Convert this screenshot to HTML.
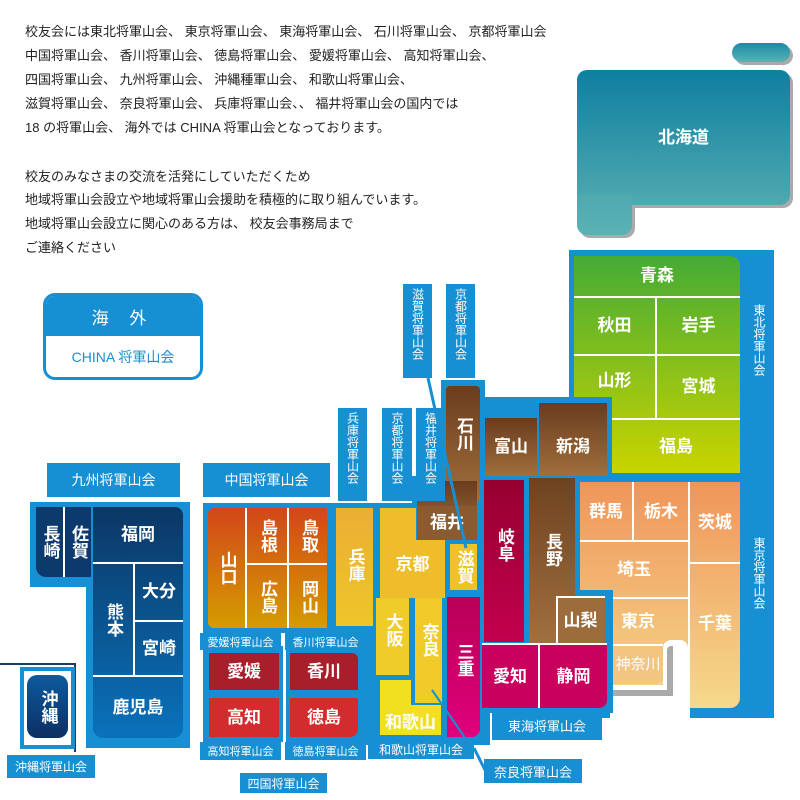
<!DOCTYPE html>
<html><head><meta charset="utf-8"><style>
*{margin:0;padding:0;box-sizing:border-box}
body{width:800px;height:800px;background:#fff;position:relative;overflow:hidden;font-family:"Liberation Sans","Noto Sans CJK JP",sans-serif}
div{position:absolute}
.t{left:25px;font-size:13px;color:#222;white-space:nowrap;line-height:16px}
.b{background:#178fd3}
.c{color:#fff;font-weight:bold;font-size:17px;display:flex;align-items:center;justify-content:center;text-align:center;line-height:20px}
.v{writing-mode:vertical-rl;text-orientation:upright}
.lb{background:#178fd3;color:#fff;font-size:12px;display:flex;align-items:center;justify-content:center;white-space:nowrap}
.vl{background:#178fd3;color:#fff;font-size:12px;writing-mode:vertical-rl;text-orientation:upright;display:flex;align-items:center;justify-content:flex-start;padding-top:4px;line-height:14px;letter-spacing:0px}
.brn{background:linear-gradient(#6a3c1e,#a06f3c)}
</style></head><body>
<div class="t" style="top:24px">校友会には東北将軍山会、 東京将軍山会、 東海将軍山会、 石川将軍山会、 京都将軍山会</div>
<div class="t" style="top:48px">中国将軍山会、 香川将軍山会、 徳島将軍山会、 愛媛将軍山会、 高知将軍山会、</div>
<div class="t" style="top:72px">四国将軍山会、 九州将軍山会、 沖縄種軍山会、 和歌山将軍山会、</div>
<div class="t" style="top:96px">滋賀将軍山会、 奈良将軍山会、 兵庫将軍山会、、 福井将軍山会の国内では</div>
<div class="t" style="top:120px">18 の将軍山会、 海外では CHINA 将軍山会となっております。</div>
<div class="t" style="top:169px">校友のみなさまの交流を活発にしていただくため</div>
<div class="t" style="top:192px">地域将軍山会設立や地域将軍山会援助を積極的に取り組んでいます。</div>
<div class="t" style="top:216px">地域将軍山会設立に関心のある方は、 校友会事務局まで</div>
<div class="t" style="top:240px">ご連絡ください</div>

<!-- 海外 -->
<div style="left:43px;top:293px;width:160px;height:87px;border:3px solid #178fd3;border-radius:12px;background:#fff;overflow:hidden">
<div style="left:0;top:0;width:154px;height:40px;background:#178fd3;color:#fff;font-size:17px;display:flex;align-items:center;justify-content:center;letter-spacing:8px">海 外</div>
<div style="left:0;top:40px;width:154px;height:41px;color:#178fd3;font-size:14px;display:flex;align-items:center;justify-content:center">CHINA 将軍山会</div>
</div>

<!-- Hokkaido -->
<div style="left:735px;top:46px;width:58px;height:19px;border-radius:10px;background:#aaa"></div>
<div style="left:732px;top:43px;width:58px;height:19px;border-radius:10px;background:linear-gradient(#1a8aa5,#5ab2b5)"></div>
<div style="left:580px;top:73px;width:213px;height:135px;border-radius:10px;background:#aaa"></div>
<div style="left:580px;top:200px;width:55px;height:38px;border-radius:0 0 10px 10px;background:#aaa"></div>
<div style="left:577px;top:70px;width:213px;height:135px;border-radius:10px;background:linear-gradient(#0e7fa0,#4fa9b0)"></div>
<div style="left:577px;top:195px;width:55px;height:40px;border-radius:0 0 10px 10px;background:linear-gradient(#4fa9b0,#5ab2b5)"></div>
<div class="c" style="left:577px;top:70px;width:213px;height:135px">北海道</div>

<!-- Tohoku/Kanto frame -->
<div class="b" style="left:569px;top:250px;width:205px;height:468px"></div>
<div class="vl" style="left:745px;top:300px;width:28px;height:100px;background:none">東北将軍山会</div>
<div class="vl" style="left:745px;top:533px;width:28px;height:100px;background:none">東京将軍山会</div>
<div style="left:574px;top:256px;width:166px;height:217px;background:linear-gradient(#45ab35,#c9d400);border-radius:0 10px 0 0"></div>
<div style="left:574px;top:296px;width:166px;height:2px;background:#fff"></div>
<div style="left:574px;top:354px;width:166px;height:2px;background:#fff"></div>
<div style="left:574px;top:418px;width:166px;height:2px;background:#fff"></div>
<div style="left:655px;top:296px;width:2px;height:122px;background:#fff"></div>
<div class="c" style="left:574px;top:256px;width:166px;height:40px">青森</div>
<div class="c" style="left:574px;top:298px;width:81px;height:56px">秋田</div>
<div class="c" style="left:657px;top:298px;width:83px;height:56px">岩手</div>
<div class="c" style="left:574px;top:356px;width:81px;height:50px">山形</div>
<div class="c" style="left:657px;top:356px;width:83px;height:62px">宮城</div>
<div class="c" style="left:612px;top:420px;width:128px;height:53px">福島</div>

<!-- Kanto -->
<div style="left:580px;top:482px;width:160px;height:226px;background:linear-gradient(#f0955a,#f5d98c);border-radius:0 0 10px 10px"></div>
<div style="left:580px;top:540px;width:108px;height:2px;background:#fff"></div>
<div style="left:632px;top:482px;width:2px;height:58px;background:#fff"></div>
<div style="left:688px;top:482px;width:2px;height:226px;background:#fff"></div>
<div style="left:690px;top:562px;width:50px;height:2px;background:#fff"></div>
<div style="left:613px;top:597px;width:75px;height:2px;background:#fff"></div>
<div style="left:613px;top:644px;width:50px;height:2px;background:#fff"></div>
<div style="left:663px;top:640px;width:25px;height:78px;background:#fff;border-radius:8px 8px 0 0"></div>
<div style="left:610px;top:685px;width:80px;height:33px;background:#fff"></div>
<div style="left:667px;top:646px;width:6px;height:50px;background:#aaa;border-radius:4px 0 0 0"></div>
<div style="left:610px;top:690px;width:63px;height:6px;background:#aaa"></div>
<div style="left:613px;top:646px;width:50px;height:38px;background:#f3c582;border-radius:0 0 8px 0"></div>
<div class="c" style="left:580px;top:484px;width:52px;height:56px">群馬</div>
<div class="c" style="left:634px;top:484px;width:54px;height:56px">栃木</div>
<div class="c" style="left:690px;top:484px;width:50px;height:78px">茨城</div>
<div class="c" style="left:580px;top:542px;width:108px;height:55px">埼玉</div>
<div class="c" style="left:690px;top:564px;width:50px;height:120px">千葉</div>
<div class="c" style="left:613px;top:599px;width:50px;height:45px">東京</div>
<div class="c" style="left:613px;top:646px;width:50px;height:38px;font-weight:normal;font-size:15px">神奈川</div>

<!-- central blue frame -->
<div class="b" style="left:441px;top:380px;width:44px;height:225px"></div>
<div class="b" style="left:480px;top:397px;width:132px;height:82px"></div>
<div class="b" style="left:330px;top:503px;width:250px;height:210px"></div>
<div class="b" style="left:412px;top:476px;width:168px;height:30px"></div>
<div class="b" style="left:330px;top:700px;width:160px;height:45px"></div>
<div class="b" style="left:475px;top:700px;width:137px;height:12px"></div>
<div class="b" style="left:550px;top:590px;width:63px;height:123px"></div>

<!-- Hokuriku -->
<div class="brn" style="left:446px;top:386px;width:34px;height:115px;border-radius:4px 4px 0 0"></div>
<div class="c v" style="left:446px;top:386px;width:34px;height:95px">石川</div>
<div class="brn" style="left:485px;top:418px;width:52px;height:58px"></div>
<div class="c" style="left:485px;top:418px;width:52px;height:58px">富山</div>
<div class="brn" style="left:539px;top:403px;width:68px;height:73px"></div>
<div class="c" style="left:539px;top:418px;width:68px;height:58px">新潟</div>
<div class="brn" style="left:417px;top:481px;width:60px;height:58px"></div>
<div style="left:417px;top:506px;width:60px;height:34px;background:#8a5a30"></div>
<div class="c" style="left:417px;top:506px;width:60px;height:34px">福井</div>
<div style="left:529px;top:478px;width:46px;height:165px;background:linear-gradient(#6f4220,#a07040)"></div>
<div class="c v" style="left:529px;top:520px;width:46px;height:60px">長野</div>
<div style="left:556px;top:596px;width:49px;height:47px;background:#9c6c3a;border-left:2px solid #fff;border-top:2px solid #fff"></div>
<div class="c" style="left:556px;top:598px;width:49px;height:45px">山梨</div>

<!-- Gifu / Tokai -->
<div style="left:484px;top:480px;width:40px;height:162px;background:linear-gradient(#960030,#c3004e)"></div>
<div class="c v" style="left:484px;top:515px;width:40px;height:60px">岐阜</div>
<div style="left:447px;top:597px;width:33px;height:140px;background:linear-gradient(#b80055,#e0007c);border-radius:0 0 8px 0"></div>
<div class="c v" style="left:447px;top:630px;width:33px;height:60px">三重</div>
<div style="left:482px;top:643px;width:125px;height:65px;background:#c8005e;border-radius:0 0 8px 0"></div>
<div style="left:482px;top:643px;width:125px;height:2px;background:#fff"></div>
<div style="left:538px;top:643px;width:2px;height:65px;background:#fff"></div>
<div class="c" style="left:482px;top:645px;width:56px;height:63px">愛知</div>
<div class="c" style="left:540px;top:645px;width:67px;height:63px">静岡</div>

<!-- Kinki -->
<div style="left:336px;top:508px;width:37px;height:118px;background:linear-gradient(#ebae34,#eec52a)"></div>
<div class="c v" style="left:336px;top:535px;width:37px;height:60px">兵庫</div>
<div style="left:380px;top:508px;width:36px;height:90px;background:#efbd2c"></div>
<div style="left:380px;top:540px;width:65px;height:58px;background:#efbd2c"></div>
<div class="c" style="left:380px;top:545px;width:65px;height:40px">京都</div>
<div style="left:450px;top:544px;width:27px;height:46px;background:#f0c22a"></div>
<div class="c v" style="left:450px;top:544px;width:27px;height:46px">滋賀</div>
<div style="left:376px;top:598px;width:33px;height:77px;background:#f0cc28"></div>
<div class="c v" style="left:376px;top:605px;width:33px;height:50px">大阪</div>
<div style="left:415px;top:598px;width:27px;height:105px;background:#f0ca28"></div>
<div class="c v" style="left:415px;top:615px;width:27px;height:50px">奈良</div>
<div style="left:380px;top:680px;width:31px;height:55px;background:#f0e020"></div>
<div style="left:380px;top:705px;width:61px;height:30px;background:#f0e020"></div>
<div class="c" style="left:380px;top:710px;width:61px;height:25px">和歌山</div>

<!-- vertical labels -->
<div class="vl" style="left:338px;top:408px;width:29px;height:93px">兵庫将軍山会</div>
<div class="vl" style="left:382px;top:408px;width:30px;height:93px">京都将軍山会</div>
<div class="vl" style="left:416px;top:408px;width:29px;height:93px">福井将軍山会</div>
<div class="vl" style="left:403px;top:284px;width:29px;height:94px">滋賀将軍山会</div>
<div class="vl" style="left:446px;top:284px;width:29px;height:94px">京都将軍山会</div>
<svg width="800" height="800" style="position:absolute;left:0;top:0">
<line x1="428" y1="378" x2="466" y2="548" stroke="#178fd3" stroke-width="3"/>
<line x1="432" y1="690" x2="468" y2="742" stroke="#178fd3" stroke-width="2"/>
<line x1="474" y1="748" x2="486" y2="772" stroke="#178fd3" stroke-width="3"/>
<path d="M0 664 H75 V752" fill="none" stroke="#1d3a68" stroke-width="2"/>
</svg>
<div class="lb" style="left:492px;top:710px;width:110px;height:30px;font-size:13px">東海将軍山会</div>
<div class="lb" style="left:368px;top:740px;width:106px;height:19px">和歌山将軍山会</div>
<div class="lb" style="left:484px;top:759px;width:98px;height:24px;font-size:13px">奈良将軍山会</div>

<!-- Chugoku -->
<div class="lb" style="left:203px;top:463px;width:127px;height:34px;font-size:14px">中国将軍山会</div>
<div class="b" style="left:203px;top:503px;width:130px;height:130px"></div>
<div style="left:208px;top:508px;width:119px;height:120px;background:linear-gradient(#d3461a,#d49c00);border-radius:6px 0 0 6px"></div>
<div style="left:245px;top:508px;width:2px;height:120px;background:#fff"></div>
<div style="left:287px;top:508px;width:2px;height:120px;background:#fff"></div>
<div style="left:245px;top:563px;width:82px;height:2px;background:#fff"></div>
<div class="c v" style="left:208px;top:508px;width:37px;height:120px">山口</div>
<div class="c v" style="left:247px;top:508px;width:40px;height:55px">島根</div>
<div class="c v" style="left:289px;top:508px;width:38px;height:55px">鳥取</div>
<div class="c v" style="left:247px;top:565px;width:40px;height:63px">広島</div>
<div class="c v" style="left:289px;top:565px;width:38px;height:63px">岡山</div>

<!-- Shikoku -->
<div class="b" style="left:203px;top:646px;width:80px;height:96px"></div>
<div class="b" style="left:286px;top:646px;width:79px;height:96px"></div>
<div class="lb" style="left:200px;top:633px;width:81px;height:17px;font-size:11px">愛媛将軍山会</div>
<div class="lb" style="left:285px;top:633px;width:81px;height:17px;font-size:11px">香川将軍山会</div>
<div class="c" style="left:209px;top:653px;width:70px;height:37px;background:#a61f2a">愛媛</div>
<div class="c" style="left:290px;top:653px;width:68px;height:37px;background:#a61f2a;border-radius:0 6px 0 0">香川</div>
<div class="c" style="left:209px;top:698px;width:70px;height:39px;background:#d22c2f">高知</div>
<div class="c" style="left:290px;top:698px;width:68px;height:39px;background:#d22c2f;border-radius:0 0 8px 0">徳島</div>
<div class="lb" style="left:200px;top:742px;width:81px;height:18px;font-size:11px">高知将軍山会</div>
<div class="lb" style="left:285px;top:742px;width:81px;height:18px;font-size:11px">徳島将軍山会</div>
<div class="lb" style="left:240px;top:773px;width:87px;height:20px;font-size:12px">四国将軍山会</div>

<!-- Kyushu -->
<div class="lb" style="left:47px;top:463px;width:133px;height:34px;font-size:14px">九州将軍山会</div>
<div class="b" style="left:30px;top:502px;width:62px;height:85px"></div>
<div class="b" style="left:86px;top:502px;width:104px;height:246px"></div>
<div style="left:36px;top:507px;width:55px;height:70px;background:#0d3a6c;border-radius:0 0 0 10px"></div>
<div style="left:63px;top:507px;width:2px;height:70px;background:#fff"></div>
<div class="c v" style="left:36px;top:507px;width:27px;height:70px">長崎</div>
<div class="c v" style="left:65px;top:507px;width:26px;height:70px">佐賀</div>
<div style="left:93px;top:507px;width:90px;height:231px;background:linear-gradient(#0b3765,#0a72bb);border-radius:0 8px 10px 10px"></div>
<div style="left:93px;top:562px;width:90px;height:2px;background:#fff"></div>
<div style="left:93px;top:675px;width:90px;height:2px;background:#fff"></div>
<div style="left:133px;top:562px;width:2px;height:113px;background:#fff"></div>
<div style="left:135px;top:620px;width:48px;height:2px;background:#fff"></div>
<div class="c" style="left:93px;top:507px;width:90px;height:55px">福岡</div>
<div class="c v" style="left:93px;top:564px;width:40px;height:111px">熊本</div>
<div class="c" style="left:135px;top:564px;width:48px;height:56px">大分</div>
<div class="c" style="left:135px;top:622px;width:48px;height:53px">宮崎</div>
<div class="c" style="left:93px;top:677px;width:90px;height:61px">鹿児島</div>

<!-- Okinawa -->
<div class="b" style="left:20px;top:667px;width:55px;height:82px"></div>
<div style="left:24px;top:671px;width:47px;height:74px;background:#fff"></div>
<div class="c v" style="left:27px;top:675px;width:41px;height:63px;background:linear-gradient(#0d5aa0,#0b2f62);border-radius:10px">沖縄</div>
<div class="lb" style="left:7px;top:755px;width:88px;height:23px;font-size:12px">沖縄将軍山会</div>
</body></html>
